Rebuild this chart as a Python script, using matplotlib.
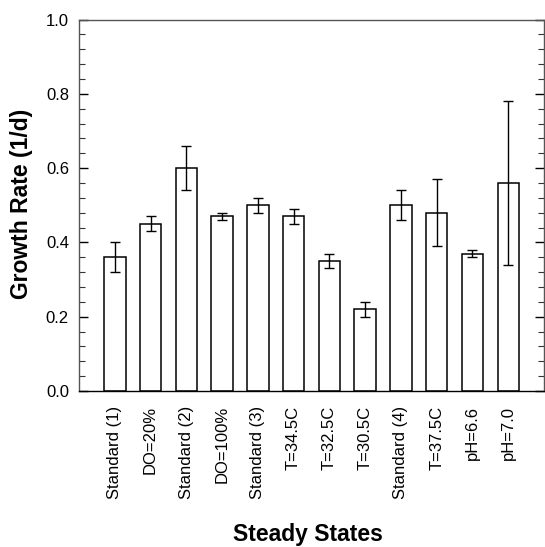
import matplotlib
matplotlib.use("Agg")
import matplotlib.pyplot as plt
from matplotlib.ticker import MultipleLocator
import numpy as np

categories = ["Standard (1)", "DO=20%", "Standard (2)", "DO=100%", "Standard (3)",
              "T=34.5C", "T=32.5C", "T=30.5C", "Standard (4)", "T=37.5C",
              "pH=6.6", "pH=7.0"]
growth_rate = [0.36, 0.45, 0.60, 0.47, 0.50, 0.47, 0.35, 0.22, 0.50, 0.48, 0.37, 0.56]
error = [0.04, 0.02, 0.06, 0.01, 0.02, 0.02, 0.02, 0.02, 0.04, 0.09, 0.01, 0.22]
yticks = [0, 0.2, 0.4, 0.6, 0.8, 1.0]
ytick_labels = ["0.0", "0.2", "0.4", "0.6", "0.8", "1.0"]

plt.rcParams['font.family'] = ['Liberation Sans', 'DejaVu Sans']

fig = plt.figure(figsize=(5.45, 5.47), dpi=100)
ax = fig.add_axes([79/545, 1-391/547, (544-79)/545, (391-19.5)/547])

x = np.arange(len(categories))
ax.bar(x, growth_rate, width=0.6, color='white', edgecolor='black', linewidth=1.1, zorder=2)
ax.errorbar(x, growth_rate, yerr=error, fmt='none', ecolor='black', elinewidth=1.0,
            capsize=3.3, capthick=1.0, zorder=3)

ax.set_xlim(-1, 12)
ax.set_ylim(0, 1.0)
ax.set_yticks(yticks)
ax.set_yticklabels(ytick_labels)
ax.yaxis.set_minor_locator(MultipleLocator(0.04))
ax.tick_params(axis='y', which='major', direction='in', length=6.5, width=1.0,
               right=True, labelsize=12, pad=7.2, color='black')
ax.tick_params(axis='y', which='minor', direction='in', length=4, width=0.8,
               right=True, color='#333333')
ax.set_xticks(x)
ax.set_xticklabels(categories, rotation=90, fontsize=12)
ax.tick_params(axis='x', length=0, pad=10.5)

for s in ax.spines.values():
    s.set_color('#555555')
    s.set_linewidth(1.0)
ax.spines['bottom'].set_color('black')

fig.text(22/545, 1-204/547, "Growth Rate (1/d)", fontsize=16.5, fontweight='bold',
         rotation=90, ha='center', va='center')
fig.text(308/545, 1-535/547, "Steady States", fontsize=16.5, fontweight='bold',
         ha='center', va='center')

fig.savefig("out.png", dpi=100)
